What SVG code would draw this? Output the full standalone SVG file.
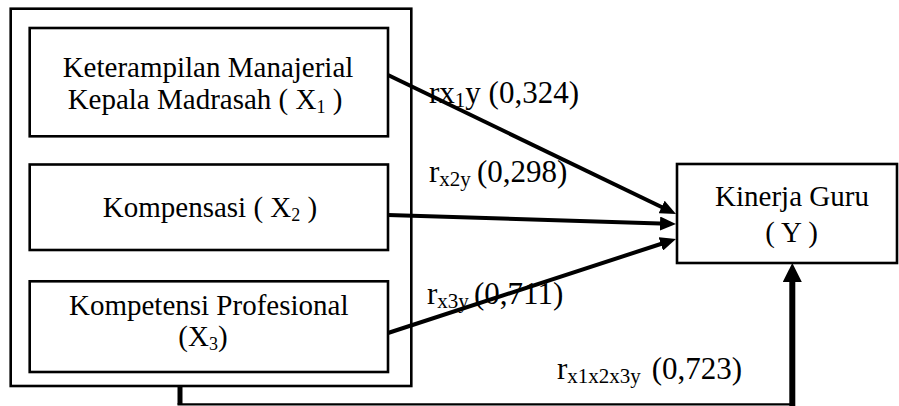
<svg xmlns="http://www.w3.org/2000/svg" width="899" height="406" viewBox="0 0 899 406">
<style>
  .box { fill: #fff; stroke: #000; stroke-width: 2.6; }
  .t { font-family: "Liberation Serif", "Times New Roman", serif; font-size: 29px; fill: #000; }
  .lbl { font-family: "Liberation Serif", "Times New Roman", serif; font-size: 31px; fill: #000; }
  .sub { font-size: 21px; }
  .bsub { font-size: 18px; }
  .arrow { stroke: #000; stroke-width: 4; fill: none; }
</style>
<defs>
  <marker id="ah" markerUnits="userSpaceOnUse" markerWidth="16" markerHeight="14" viewBox="0 0 16 14" refX="8" refY="7" orient="auto">
    <path d="M0,0 L16,7 L0,14 z" fill="#000"/>
  </marker>
  <marker id="ahBig" markerUnits="userSpaceOnUse" markerWidth="19" markerHeight="19" viewBox="0 0 19 19" refX="9" refY="9.5" orient="auto">
    <path d="M0,0 L19,9.5 L0,19 z" fill="#000"/>
  </marker>
</defs>

<g id="outer">
  <rect class="box" x="10.7" y="8.7" width="400.6" height="377.3"/>
</g>

<g id="x1">
  <rect class="box" x="29.7" y="28" width="358.3" height="108.3"/>
  <text class="t" x="208" y="77" text-anchor="middle">Keterampilan Manajerial</text>
  <text class="t" x="205" y="109" text-anchor="middle">Kepala Madrasah ( X<tspan class="bsub" dy="4">1</tspan><tspan dy="-4"> )</tspan></text>
</g>

<g id="x2">
  <rect class="box" x="29.7" y="164.5" width="358.3" height="85.5"/>
  <text class="t" x="210" y="217" text-anchor="middle">Kompensasi ( X<tspan class="bsub" dy="4">2</tspan><tspan dy="-4"> )</tspan></text>
</g>

<g id="x3">
  <rect class="box" x="29.7" y="281.3" width="358.3" height="90.7"/>
  <text class="t" x="208.7" y="315" text-anchor="middle">Kompetensi Profesional</text>
  <text class="t" x="203" y="346" text-anchor="middle">(X<tspan class="bsub" dy="4">3</tspan><tspan dy="-4">)</tspan></text>
</g>

<g id="y">
  <rect class="box" x="677" y="164" width="220" height="99"/>
  <text class="t" x="792" y="206" text-anchor="middle">Kinerja Guru</text>
  <text class="t" x="791.5" y="242" text-anchor="middle">( Y )</text>
</g>

<g id="connectors">
  <line class="arrow" x1="388" y1="75" x2="668.8" y2="210.5" marker-end="url(#ah)"/>
  <line class="arrow" x1="388" y1="215" x2="668" y2="223.75" marker-end="url(#ah)"/>
  <line class="arrow" x1="388" y1="333" x2="668.4" y2="241.5" marker-end="url(#ah)"/>
  <line x1="180" y1="386" x2="180" y2="404.5" stroke="#000" stroke-width="5"/>
  <line x1="177.5" y1="404.3" x2="795" y2="404.3" stroke="#000" stroke-width="2.2"/>
  <line x1="792.3" y1="406" x2="792.3" y2="273" stroke="#000" stroke-width="6" marker-end="url(#ahBig)"/>
</g>

<g id="labels">
  <text class="lbl" x="429" y="103">rx<tspan class="sub" dy="4">1</tspan><tspan dy="-4">y (0,324)</tspan></text>
  <text class="lbl" x="429" y="182">r<tspan class="sub" dy="4">x2y</tspan><tspan x="477" dy="-4">(0,298)</tspan></text>
  <text class="lbl" x="427" y="304">r<tspan class="sub" dy="4">x3y</tspan><tspan x="474" dy="-4">(0,711)</tspan></text>
  <text class="lbl" x="557" y="379">r<tspan class="sub" dy="4">x1x2x3y</tspan><tspan x="651.7" dy="-4">(0,723)</tspan></text>
</g>
</svg>
